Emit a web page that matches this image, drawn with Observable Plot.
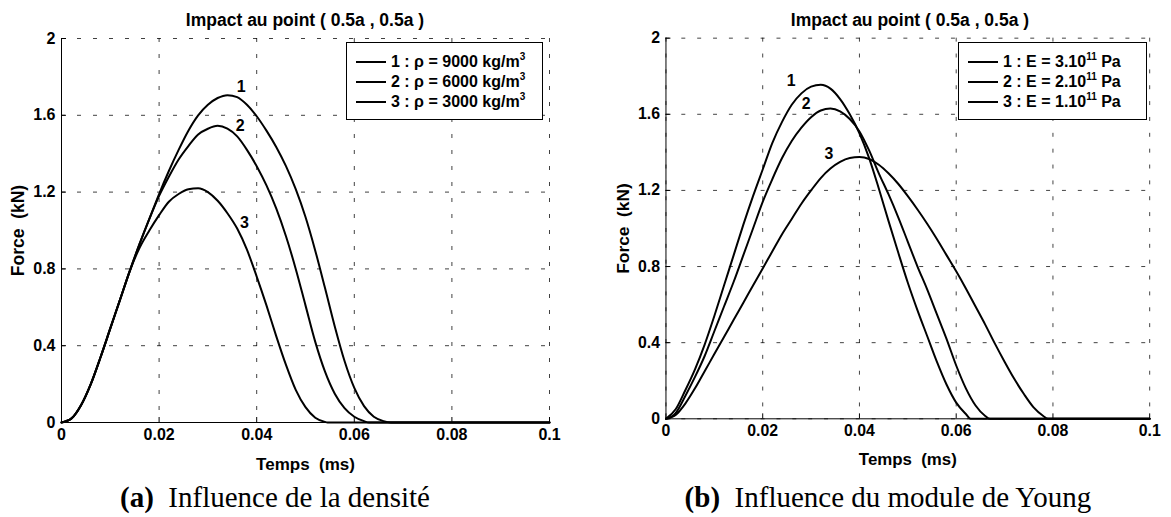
<!DOCTYPE html>
<html>
<head>
<meta charset="utf-8">
<script src="https://cdn.jsdelivr.net/npm/d3@7"></script>
<script src="https://cdn.jsdelivr.net/npm/@observablehq/plot@0.6"></script>
<style>
  html, body { margin: 0; padding: 0; background: #fff; }
  body { width: 1171px; height: 517px; position: relative; overflow: hidden;
         font-family: "Liberation Sans", Arial, sans-serif; color: #000; }
  .panel { position: absolute; top: 0; }
  .ptitle { position: absolute; top: 10px; font-weight: bold; font-size: 17.5px; line-height: 20px; text-align: center; white-space: pre; }
  .legend { position: absolute; background: #fff; border: 1px solid #000; box-sizing: border-box; }
  .entry { position: absolute; left: 0; height: 20px; font-weight: bold; font-size: 16px; white-space: pre; }
  .entry .sample { position: absolute; left: 9px; top: 9px; width: 30px; height: 2px; background: #000; }
  .entry .txt { position: absolute; left: 44px; top: 0px; line-height: 20px; }
  .entry sup { font-size: 10px; vertical-align: 0; position: relative; top: -7px; }
  .caption { position: absolute; top: 481px; font-family: "Liberation Serif", "Times New Roman", serif; font-size: 29px; line-height: 33px; white-space: pre; text-align: center; }
</style>
</head>
<body>
<div id="root"></div>
<script>
// ---------- data ----------
const chartTitle = "Impact au point ( 0.5a , 0.5a )";
const xTicks = [0, 0.02, 0.04, 0.06, 0.08, 0.1];
const xTickLabels = ["0", "0.02", "0.04", "0.06", "0.08", "0.1"];
const yTicks = [0, 0.4, 0.8, 1.2, 1.6, 2];
const yTickLabels = ["0", "0.4", "0.8", "1.2", "1.6", "2"];
const xLabel = "Temps\u00a0 (ms)";
const yLabel = "Force\u00a0 (kN)";

// (a) densité
const leftT1 = [0,.002,.004,.006,.008,.010,.012,.014,.016,.018,.020,.022,.024,.026,.028,.030,.032,.034,.036,.038,.040,.042,.044,.046,.048,.050,.052,.054,.056,.058,.060,.062,.064,.066,.0675,.1];
const leftF1 = [0,.02,.09,.20,.34,.49,.64,.79,.93,1.06,1.19,1.31,1.42,1.52,1.60,1.655,1.69,1.705,1.695,1.655,1.595,1.52,1.435,1.335,1.215,1.07,.895,.70,.50,.32,.18,.085,.03,.007,0,0];
const leftT2 = [0,.002,.004,.006,.008,.010,.012,.014,.016,.018,.020,.022,.024,.026,.028,.030,.032,.034,.036,.038,.040,.042,.044,.046,.048,.050,.052,.054,.056,.058,.060,.062,.063,.1];
const leftF2 = [0,.02,.09,.20,.34,.49,.64,.79,.93,1.06,1.18,1.28,1.37,1.44,1.50,1.53,1.545,1.53,1.49,1.42,1.335,1.235,1.115,.97,.80,.61,.42,.265,.15,.075,.03,.007,0,0];
const leftT3 = [0,.002,.004,.006,.008,.010,.012,.014,.016,.018,.020,.022,.024,.026,.028,.030,.032,.034,.036,.038,.040,.042,.044,.046,.048,.050,.052,.054,.0545,.1];
const leftF3 = [0,.02,.09,.20,.34,.49,.64,.79,.91,1.00,1.08,1.15,1.19,1.215,1.22,1.20,1.155,1.09,1.01,.90,.76,.61,.45,.30,.17,.08,.025,.003,0,0];
const leftLegend = ["1 : \u03c1 = 9000 kg/m", "2 : \u03c1 = 6000 kg/m", "3 : \u03c1 = 3000 kg/m"];
const leftLegendSup = ["3", "3", "3"];
const leftCurveNames = ["1", "2", "3"];
const leftLabelT = [0.0368, 0.0366, 0.0375];
const leftLabelF = [1.75, 1.545, 1.04];
const leftCaptionBold = "(a)";
const leftCaption = "  Influence de la densité";

// (b) module de Young
const rightT1 = [0,.002,.004,.006,.008,.010,.012,.014,.016,.018,.020,.022,.024,.026,.028,.030,.032,.034,.036,.038,.040,.042,.044,.046,.048,.050,.052,.054,.056,.058,.060,.062,.063,.1];
const rightF1 = [0,.05,.15,.26,.39,.54,.70,.86,1.02,1.17,1.31,1.45,1.56,1.65,1.71,1.745,1.755,1.735,1.68,1.60,1.50,1.37,1.21,1.04,.875,.715,.57,.435,.30,.18,.085,.025,0,0];
const rightT2 = [0,.002,.004,.006,.008,.010,.012,.014,.016,.018,.020,.022,.024,.026,.028,.030,.032,.034,.036,.038,.040,.042,.044,.046,.048,.050,.052,.054,.056,.058,.060,.062,.064,.066,.067,.1];
const rightF2 = [0,.03,.12,.22,.33,.46,.59,.72,.86,1.00,1.14,1.26,1.37,1.46,1.53,1.585,1.62,1.63,1.615,1.575,1.51,1.41,1.29,1.18,1.06,.93,.80,.68,.55,.42,.28,.16,.07,.015,0,0];
const rightT3 = [0,.002,.004,.006,.008,.010,.012,.014,.016,.018,.020,.022,.024,.026,.028,.030,.032,.034,.036,.038,.040,.042,.044,.046,.048,.050,.052,.054,.056,.058,.060,.062,.064,.066,.068,.070,.072,.074,.076,.078,.079,.1];
const rightF3 = [0,.02,.08,.16,.25,.34,.43,.52,.61,.70,.79,.88,.97,1.05,1.13,1.20,1.265,1.315,1.35,1.37,1.375,1.365,1.335,1.29,1.235,1.17,1.10,1.025,.945,.86,.775,.685,.59,.495,.395,.30,.21,.13,.06,.015,0,0];
const rightLegend = ["1 : E = 3.10", "2 : E = 2.10", "3 : E = 1.10"];
const rightLegendSup = ["11", "11", "11"];
const rightLegendTail = [" Pa", " Pa", " Pa"];
const rightCurveNames = ["1", "2", "3"];
const rightLabelT = [0.0259, 0.029, 0.0337];
const rightLabelF = [1.775, 1.655, 1.39];
const rightCaptionBold = "(b)";
const rightCaption = "  Influence du module de Young";

// ---------- helpers ----------
function series(ts, fs, id) { return ts.map((t, i) => ({t, f: fs[i], id})); }
function labelRows(ts, fs, names) { return ts.map((t, i) => ({t, f: fs[i], name: names[i]})); }

const gridStyle = {stroke: "#000", strokeOpacity: 0.75, strokeWidth: 1, strokeDasharray: "4,12"};

function makePanel(curves, labels) {
  return Plot.plot({
    width: 571, height: 517,
    marginLeft: 61, marginRight: 22, marginTop: 38, marginBottom: 95,
    style: {fontFamily: '"Liberation Sans", Arial, sans-serif', fontSize: "16px", fontWeight: "bold", color: "#000", background: "transparent", overflow: "visible"},
    x: {domain: [0, 0.1]},
    y: {domain: [0, 2]},
    marks: [
      Plot.gridX(xTicks, {...gridStyle}),
      Plot.gridY(yTicks, {...gridStyle}),
      Plot.ruleX([0], {stroke: "#000", strokeWidth: 1}),
      Plot.ruleY([0], {stroke: "#000", strokeWidth: 1}),
      Plot.axisX(xTicks, {tickSize: 5, tickPadding: 1, tickFormat: (d, i) => xTickLabels[i], fontSize: 16,
        label: null, fill: "#000", stroke: "#000", strokeWidth: 1, fontWeight: "bold"}),
      Plot.axisX({ticks: [], label: xLabel, labelAnchor: "center", labelOffset: 47, labelArrow: "none", fontSize: 17, fontWeight: "bold"}),
      Plot.axisY(yTicks, {tickSize: 5, tickPadding: 1, tickFormat: (d, i) => yTickLabels[i], fontSize: 16,
        label: null, fill: "#000", stroke: "#000", strokeWidth: 1, fontWeight: "bold"}),
      Plot.axisY({ticks: [], label: yLabel, labelAnchor: "center", labelOffset: 50, labelArrow: "none", fontSize: 17.5, fontWeight: "bold"}),
      Plot.line(curves, {x: "t", y: "f", z: "id", stroke: "#000", strokeWidth: 2, curve: "monotone-x"}),
      Plot.text(labels, {x: "t", y: "f", text: "name", fill: "#000", fontSize: 16, fontWeight: "bold"})
    ]
  });
}

const root = document.getElementById("root");

function addPanel(left, curves, labels, legendMain, legendSup, legendTail, legendBox, capBold, cap, capCenter) {
  const div = document.createElement("div");
  div.className = "panel";
  div.style.left = left + "px";
  div.appendChild(makePanel(curves, labels));
  root.appendChild(div);
  // inward ticks (as in the reference): flip tick paths into the plot area
  div.querySelectorAll('g[aria-label="x-axis tick"] path').forEach(p => p.setAttribute("transform", (p.getAttribute("transform") || "") + " scale(1,-1)"));
  div.querySelectorAll('g[aria-label="y-axis tick"] path').forEach(p => p.setAttribute("transform", (p.getAttribute("transform") || "") + " scale(-1,1)"));

  const t = document.createElement("div");
  t.className = "ptitle";
  t.style.left = (left + 61) + "px";
  t.style.width = "488px";
  t.textContent = chartTitle;
  root.appendChild(t);

  const lg = document.createElement("div");
  lg.className = "legend";
  lg.style.left = legendBox[0] + "px"; lg.style.top = legendBox[1] + "px";
  lg.style.width = legendBox[2] + "px"; lg.style.height = legendBox[3] + "px";
  legendMain.forEach((s, i) => {
    const e = document.createElement("div");
    e.className = "entry";
    e.style.top = (9 + i * 20) + "px";
    const smp = document.createElement("div"); smp.className = "sample"; e.appendChild(smp);
    const tx = document.createElement("div"); tx.className = "txt";
    tx.appendChild(document.createTextNode(s));
    const sp = document.createElement("sup"); sp.textContent = legendSup[i]; tx.appendChild(sp);
    if (legendTail) tx.appendChild(document.createTextNode(legendTail[i]));
    e.appendChild(tx);
    lg.appendChild(e);
  });
  root.appendChild(lg);

  const c = document.createElement("div");
  c.className = "caption";
  c.style.left = (capCenter - 280) + "px";
  c.style.width = "560px";
  const b = document.createElement("b"); b.textContent = capBold;
  c.appendChild(b);
  c.appendChild(document.createTextNode(cap));
  root.appendChild(c);
}

addPanel(0,
  [...series(leftT1, leftF1, 1), ...series(leftT2, leftF2, 2), ...series(leftT3, leftF3, 3)],
  labelRows(leftLabelT, leftLabelF, leftCurveNames),
  leftLegend, leftLegendSup, null, [346, 42, 197, 78],
  leftCaptionBold, leftCaption, 275);

addPanel(605,
  [...series(rightT1, rightF1, 1), ...series(rightT2, rightF2, 2), ...series(rightT3, rightF3, 3)],
  labelRows(rightLabelT, rightLabelF, rightCurveNames),
  rightLegend, rightLegendSup, rightLegendTail, [958, 42, 189, 78],
  rightCaptionBold, rightCaption, 888);
</script>
</body>
</html>
